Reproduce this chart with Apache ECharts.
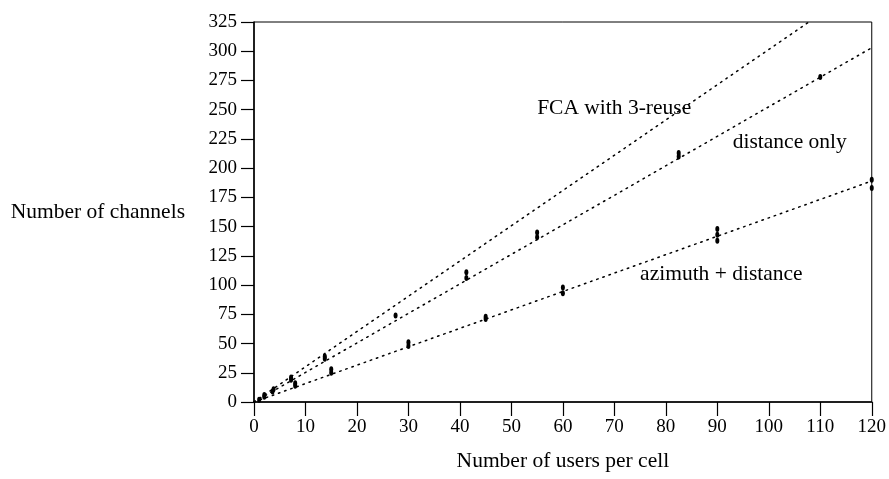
<!DOCTYPE html>
<html>
<head>
<meta charset="utf-8">
<script src="https://cdn.jsdelivr.net/npm/echarts@6/dist/echarts.min.js"></script>
<style>
  html, body { margin: 0; padding: 0; background: #fff; }
  #chart { width: 889px; height: 479px; }
</style>
</head>
<body>
<div id="chart"></div>
<script>
// === data ===
const xTicks = [0, 10, 20, 30, 40, 50, 60, 70, 80, 90, 100, 110, 120]
const yTicks = [0, 25, 50, 75, 100, 125, 150, 175, 200, 225, 250, 275, 300, 325]

// fitted dotted lines (end points)
const fcaLine = [[0, 0], [107.8, 325]]
const distanceLine = [[0, 0], [120, 303]]
const azimuthLine = [[0, 0], [120, 189]]

// measured points
const distancePts = [
  [1, 2], [2, 4.5], [2, 6], [3.6, 9], [3.8, 11], [7.2, 19], [7.2, 21],
  [13.75, 37], [13.75, 39], [27.5, 74], [41.25, 106], [41.25, 111],
  [55, 141], [55, 145], [82.5, 210], [82.5, 213], [110, 278],
]
const azimuthPts = [
  [8, 14], [8, 16], [15, 25], [15, 28], [30, 48], [30, 51], [45, 71], [45, 73],
  [60, 93], [60, 98], [90, 138], [90, 143], [90, 148], [120, 183], [120, 190],
]

// curve labels: [x, y, text]
const curveLabels = [
  [55, 251, 'FCA with 3-reuse'],
  [93, 222, 'distance only'],
  [75, 109, 'azimuth + distance'],
]

const font = 'Liberation Serif'
const ink = '#000'

const chart = echarts.init(document.getElementById('chart'))

const dotted = { color: ink, width: 1.5, type: [1.5, 5], cap: 'round' }

function lineSeries(data) {
  return { type: 'line', data, showSymbol: false, symbol: 'none', lineStyle: dotted, z: 2, silent: true }
}
function pointSeries(data) {
  return { type: 'scatter', data, symbol: 'circle', symbolSize: [4, 6], itemStyle: { color: ink, opacity: 1 }, z: 3 }
}

const option = {
  animation: false,
  backgroundColor: '#fff',
  grid: { left: 254, right: 17, top: 22, bottom: 77, show: true, borderColor: ink, borderWidth: 1 },
  xAxis: {
    type: 'value',
    min: xTicks[0],
    max: xTicks[xTicks.length - 1],
    interval: 10,
    name: 'Number of users per cell',
    nameLocation: 'middle',
    nameGap: 48,
    nameTextStyle: { fontFamily: font, fontSize: 21.5, color: ink },
    axisLine: { lineStyle: { color: ink, width: 1.5 } },
    axisTick: { length: 14, lineStyle: { color: ink, width: 1.2 } },
    axisLabel: { fontFamily: font, fontSize: 19, color: ink, margin: 16 },
    splitLine: { show: false },
  },
  yAxis: {
    type: 'value',
    min: yTicks[0],
    max: yTicks[yTicks.length - 1],
    interval: 25,
    name: 'Number of channels',
    nameLocation: 'middle',
    nameRotate: 0,
    nameGap: 69,
    nameTextStyle: { fontFamily: font, fontSize: 21.5, color: ink, align: 'right' },
    axisLine: { lineStyle: { color: ink, width: 1.5 } },
    axisTick: { length: 13, lineStyle: { color: ink, width: 1.2 } },
    axisLabel: { fontFamily: font, fontSize: 19, color: ink, margin: 17 },
    splitLine: { show: false },
  },
  series: [
    lineSeries(fcaLine),
    lineSeries(distanceLine),
    lineSeries(azimuthLine),
    pointSeries(distancePts),
    pointSeries(azimuthPts),
    {
      type: 'scatter',
      data: curveLabels.map(([x, y, t]) => ({ value: [x, y], name: t })),
      symbolSize: 0,
      silent: true,
      label: {
        show: true,
        position: 'right',
        distance: 0,
        formatter: (p) => p.name,
        fontFamily: font,
        fontSize: 21.5,
        color: ink,
        opacity: 1,
      },
    },
  ],
}

chart.setOption(option)
</script>
</body>
</html>
